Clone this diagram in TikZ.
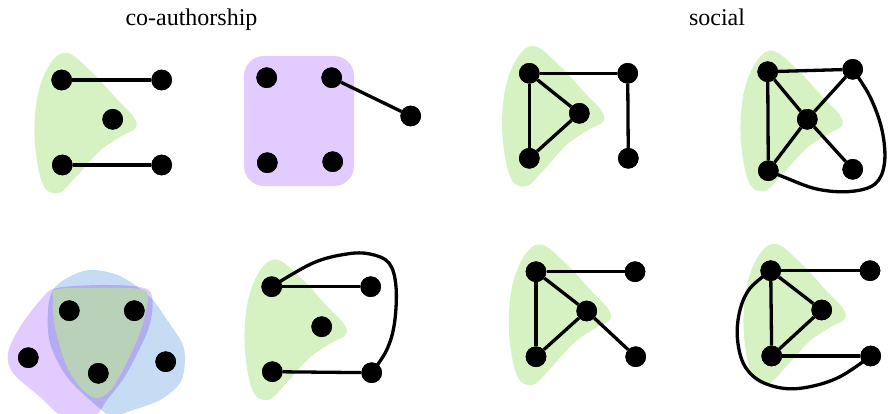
\documentclass[tikz,border=0pt]{standalone}
\usepackage{fontspec}
\setmainfont{Liberation Serif}
\definecolor{gcol}{HTML}{D6F2C2}
\definecolor{pcol}{HTML}{E2CCFF}
\definecolor{bcol}{HTML}{C6DCF4}
\definecolor{pbcol}{HTML}{B3ACF3}
\definecolor{gmix}{HTML}{B9D0B9}
\newcommand\greenblob[2]{%
  \fill[gcol,shift={(#1,#2)}] plot[smooth cycle,tension=0.6] coordinates
  {(6,-27) (31,-7) (55,19) (72,37) (74,48) (60,56) (38,71) (15,96) (-3,113) (-19,104) (-27,60) (-24,15) (-11,-17)};}
\newcommand\purplepath{plot[smooth cycle,tension=0.55] coordinates
  {(57,288) (100,285) (140,287) (152,296) (149,327) (127,373) (107,400) (92,420) (68,421) (40,397) (13,373) (8,353) (20,327) (43,297)}}
\newcommand\bluepath{plot[smooth cycle,tension=0.55] coordinates
  {(90,270) (120,276) (150,297) (167,320) (182,343) (185,361) (180,383) (160,400) (133,410) (112,416) (98,407) (67,377) (50,343) (48,310) (53,290) (67,278)}}
\begin{document}
\begin{tikzpicture}[x=1pt,y=-1pt,
  vtx/.style={circle,fill=black,inner sep=0pt,minimum size=20.6pt},
  edge/.style={line width=3.3pt},
  title/.style={font=\fontsize{24}{28}\selectfont,anchor=base}]
\useasboundingbox (0,0) rectangle (889,413);

% titles
\node[title] (t1) at (191.5,25) {co-authorship};
\node[title] (t2) at (717,25) {social};

% ---------- backgrounds ----------
\greenblob{61.7}{80}
\fill[pcol,rounded corners=20pt] (244,56) rectangle (354,186);
\greenblob{529.3}{73.3}
\greenblob{767.7}{78}
\greenblob{271.7}{286.7}
\greenblob{536}{271.7}
\greenblob{770.7}{271}

% panel 5 overlapping blobs
\fill[pcol] \purplepath;
\fill[bcol] \bluepath;
\begin{scope}
  \clip \purplepath;
  \fill[pbcol] \bluepath;
\end{scope}
\fill[gmix] plot[smooth cycle,tension=0.55] coordinates
  {(57,289) (100,288) (140,289) (148,298) (140,333) (123,370) (110,391) (97,398) (83,390) (67,367) (55,327) (53,298)};

% ---------- panel 1 ----------
\node[vtx] (a1) at (61.7,80) {};
\node[vtx] (a2) at (161.7,80) {};
\node[vtx] (a3) at (112.7,119.3) {};
\node[vtx] (a4) at (62.3,165) {};
\node[vtx] (a5) at (161.7,165) {};
\draw[edge] (a1) -- (a2);
\draw[edge] (a4) -- (a5);

% ---------- panel 2 ----------
\node[vtx] (b1) at (266.7,77.7) {};
\node[vtx] (b2) at (331.7,77.7) {};
\node[vtx] (b3) at (410.7,116) {};
\node[vtx] (b4) at (267.3,162.7) {};
\node[vtx] (b5) at (332.7,161.7) {};
\draw[edge] (b2) -- (b3);

% ---------- panel 3 ----------
\node[vtx] (c1) at (529.3,73.3) {};
\node[vtx] (c2) at (627.7,73.3) {};
\node[vtx] (c3) at (579.3,113.3) {};
\node[vtx] (c4) at (529.3,158.3) {};
\node[vtx] (c5) at (628.3,158.3) {};
\draw[edge] (c1) -- (c2);
\draw[edge] (c2) -- (c5);
\draw[edge] (c1) -- (c3);
\draw[edge] (c1) -- (c4);
\draw[edge] (c3) -- (c4);

% ---------- panel 4 ----------
\node[vtx] (d1) at (767.7,71.7) {};
\node[vtx] (d2) at (852.7,69.3) {};
\node[vtx] (d3) at (807.3,119.3) {};
\node[vtx] (d4) at (768.3,170.7) {};
\node[vtx] (d5) at (852.7,169.3) {};
\draw[edge] (d1) -- (d2);
\draw[edge] (d1) -- (d4);
\draw[edge] (d1) -- (d3);
\draw[edge] (d3) -- (d2);
\draw[edge] (d3) -- (d4);
\draw[edge] (d3) -- (d5);
\draw[edge] plot[smooth,tension=0.6] coordinates
  {(d2) (870,96.7) (882,130) (884.5,163) (875,184) (850,191.5) (816.7,189) (783,176.7) (d4)};

% ---------- panel 5 ----------
\node[vtx] (e1) at (69.3,310.7) {};
\node[vtx] (e2) at (134.3,310.7) {};
\node[vtx] (e3) at (28.3,357.7) {};
\node[vtx] (e4) at (98.3,373.3) {};
\node[vtx] (e5) at (165.7,361.7) {};

% ---------- panel 6 ----------
\node[vtx] (f1) at (271.7,286.7) {};
\node[vtx] (f2) at (370.7,286.7) {};
\node[vtx] (f3) at (321.7,326.7) {};
\node[vtx] (f4) at (272.3,371.7) {};
\node[vtx] (f5) at (371.7,372.7) {};
\draw[edge] (f1) -- (f2);
\draw[edge] (f4) -- (f5);
\draw[edge] plot[smooth,tension=0.6] coordinates
  {(f1) (313,263) (346.7,254) (370,254) (389,263) (396,286.7) (394.5,323) (386.7,350) (f5)};

% ---------- panel 7 ----------
\node[vtx] (g1) at (536,271.7) {};
\node[vtx] (g2) at (635,271.7) {};
\node[vtx] (g3) at (586.7,311) {};
\node[vtx] (g4) at (536,356.7) {};
\node[vtx] (g5) at (635.7,356.7) {};
\draw[edge] (g1) -- (g2);
\draw[edge] (g1) -- (g4);
\draw[edge] (g1) -- (g3);
\draw[edge] (g3) -- (g4);
\draw[edge] (g3) -- (g5);

% ---------- panel 8 ----------
\node[vtx] (h1) at (770.7,270.7) {};
\node[vtx] (h2) at (870,270.7) {};
\node[vtx] (h3) at (821.7,310) {};
\node[vtx] (h4) at (771.7,356) {};
\node[vtx] (h5) at (870.7,356) {};
\draw[edge] (h1) -- (h2);
\draw[edge] (h1) -- (h4);
\draw[edge] (h1) -- (h3);
\draw[edge] (h3) -- (h4);
\draw[edge] (h4) -- (h5);
\draw[edge] plot[smooth,tension=0.6] coordinates
  {(h1) (750,288.3) (740,310) (737.3,336.7) (743.3,363.3) (758.3,380) (783.3,388.3) (810,386.7) (840,376.7) (h5)};

% redraw vertices on top of curves
\foreach \n in {a1,a2,a3,a4,a5,b1,b2,b3,b4,b5,c1,c2,c3,c4,c5,d1,d2,d3,d4,d5,e1,e2,e3,e4,e5,f1,f2,f3,f4,f5,g1,g2,g3,g4,g5,h1,h2,h3,h4,h5}
  \fill (\n.center) circle (10.3pt);
\end{tikzpicture}
\end{document}
